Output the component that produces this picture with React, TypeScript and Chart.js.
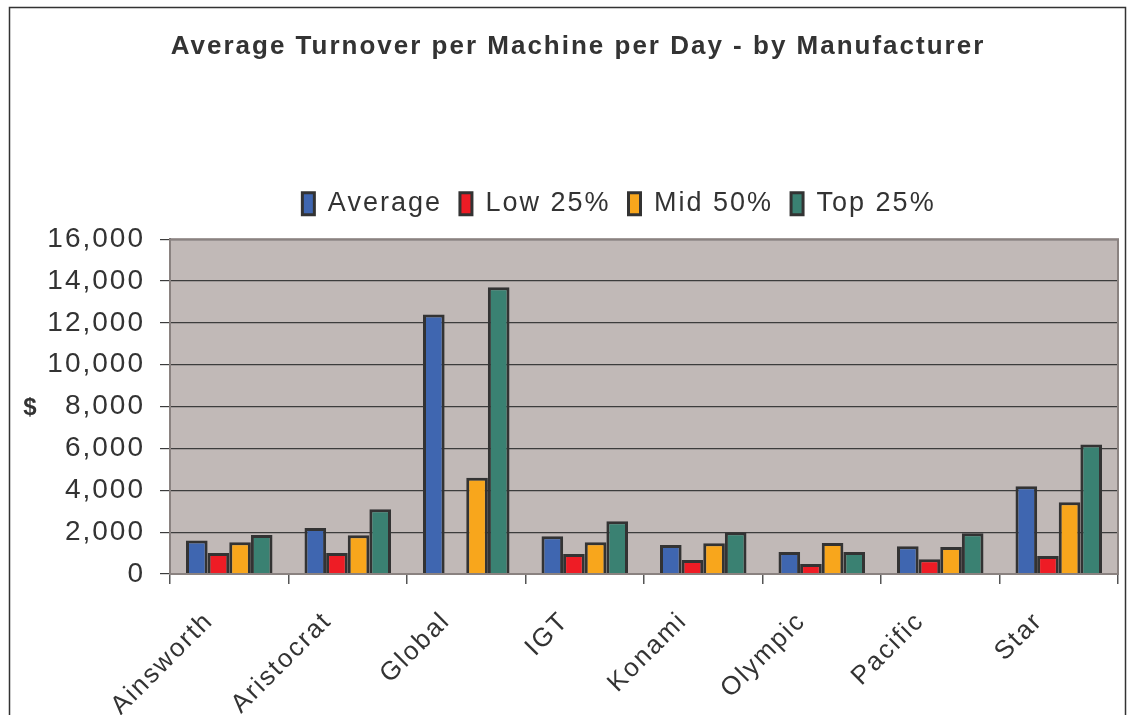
import React, { useEffect, useRef } from "react";
import { Chart, registerables } from "chart.js";

Chart.register(...registerables);

const categories = ["Ainsworth", "Aristocrat", "Global", "IGT", "Konami", "Olympic", "Pacific", "Star"];
const averageValues = [1600, 2200, 12400, 1800, 1380, 1050, 1330, 4190];
const low25Values = [1000, 1000, null, 950, 670, 480, 710, 860];
const mid50Values = [1520, 1850, 4600, 1520, 1470, 1480, 1290, 3430];
const top25Values = [1860, 3100, 13700, 2520, 2000, 1050, 1950, 6190];
const seriesNames = ["Average", "Low 25%", "Mid 50%", "Top 25%"];
const seriesColors = ["#3F66B0", "#EE1C25", "#F8A61C", "#3A8172"];
const yTicks = [0, 2000, 4000, 6000, 8000, 10000, 12000, 14000, 16000];

const FONT = "'Liberation Sans', Arial, sans-serif";

const shiftDraw = (box: any, dx: number) => {
  if (!box || box.__wrapped) return;
  const orig = box.draw.bind(box);
  box.draw = function (...args: any[]) {
    const ctx = this.ctx;
    ctx.save();
    ctx.translate(dx, 0);
    orig(...args);
    ctx.restore();
  };
  box.__wrapped = true;
};

const spacingPlugin = {
  id: "spacing",
  afterInit(chart: any) {
    const lg = chart.legend;
    if (lg && !lg.__fitWrapped) {
      const f = lg.fit.bind(lg);
      lg.fit = function () {
        f();
        this.height += 12;
      };
      lg.__fitWrapped = true;
    }
    shiftDraw(chart.legend, 60);
    shiftDraw(chart.titleBlock, 19);
  },
  beforeUpdate(chart: any) {
    chart.ctx.letterSpacing = "2px";
  },
  beforeLayout(chart: any) {
    chart.ctx.letterSpacing = "2px";
  },
  beforeDraw(chart: any) {
    chart.ctx.letterSpacing = "2px";
  },
};

const decorPlugin = {
  id: "decor",
  beforeDraw(chart: any) {
    const { ctx, chartArea } = chart;
    ctx.save();
    ctx.fillStyle = "#ffffff";
    ctx.fillRect(0, 0, chart.width, chart.height);
    ctx.fillStyle = "#C1B9B7";
    ctx.fillRect(chartArea.left, chartArea.top, chartArea.right - chartArea.left, chartArea.bottom - chartArea.top);
    ctx.restore();
  },
  afterDraw(chart: any) {
    const { ctx, chartArea } = chart;
    ctx.save();
    ctx.strokeStyle = "#8A8280";
    ctx.lineWidth = 2;
    ctx.strokeRect(chartArea.left, chartArea.top, chartArea.right - chartArea.left, chartArea.bottom - chartArea.top);
    ctx.strokeStyle = "#333333";
    ctx.lineWidth = 1.5;
    ctx.strokeRect(9.5, 7.5, 1116, 720);
    ctx.letterSpacing = "0px";
    ctx.fillStyle = "#333333";
    ctx.font = "bold 24px " + FONT;
    ctx.textAlign = "center";
    ctx.textBaseline = "middle";
    ctx.fillText("$", 30, 408);
    ctx.restore();
  },
};

export default function App() {
  const canvasRef = useRef<HTMLCanvasElement | null>(null);

  useEffect(() => {
    const canvas = canvasRef.current;
    if (!canvas) return;
    const valueSets = [averageValues, low25Values, mid50Values, top25Values];
    const chart = new Chart(canvas, {
      type: "bar",
      data: {
        labels: categories,
        datasets: seriesNames.map((name, i) => ({
          label: name,
          data: valueSets[i],
          backgroundColor: seriesColors[i],
          borderColor: "#333333",
          borderWidth: 3,
          barPercentage: 1,
          categoryPercentage: 0.73,
        })),
      },
      options: {
        responsive: false,
        animation: false,
        devicePixelRatio: 1,
        layout: { padding: { left: 0, right: 10, top: 0, bottom: 0 } },
        plugins: {
          title: {
            display: true,
            text: "Average Turnover per Machine per Day - by Manufacturer",
            color: "#333333",
            font: { family: FONT, size: 26, weight: "bold" },
            padding: { top: 31, bottom: 110 },
          },
          legend: {
            display: true,
            labels: {
              color: "#333333",
              font: { family: FONT, size: 27 },
              boxWidth: 12,
              boxHeight: 22,
              padding: 18,
            },
          },
          tooltip: { enabled: false },
        },
        scales: {
          x: {
            offset: true,
            grid: {
              offset: true,
              drawOnChartArea: false,
              drawTicks: true,
              tickLength: 10,
              color: "#555555",
              lineWidth: 1.5,
            },
            border: { display: true, color: "#555555", width: 2 },
            ticks: {
              color: "#333333",
              font: { family: FONT, size: 26 },
              minRotation: 45,
              maxRotation: 45,
              padding: 22,
              labelOffset: -20,
            },
            afterFit(scale: any) {
              scale.height = 141;
            },
          },
          y: {
            min: 0,
            max: 16000,
            grid: {
              color: "#3C3C3C",
              lineWidth: 1.2,
              tickLength: 10,
            },
            border: { display: true, color: "#555555", width: 2 },
            ticks: {
              stepSize: 2000,
              color: "#333333",
              font: { family: FONT, size: 28 },
              padding: 15,
              callback: (v: any) => (yTicks.includes(Number(v)) ? Number(v).toLocaleString("en-US") : ""),
            },
            afterFit(scale: any) {
              scale.width = 170;
            },
          },
        },
      },
      plugins: [spacingPlugin, decorPlugin],
    });
    return () => chart.destroy();
  }, []);

  return (
    <div style={{ position: "fixed", left: 0, top: 0, width: 1128, height: 715 }}>
      <canvas ref={canvasRef} width={1128} height={715} style={{ width: 1128, height: 715 }} />
    </div>
  );
}
